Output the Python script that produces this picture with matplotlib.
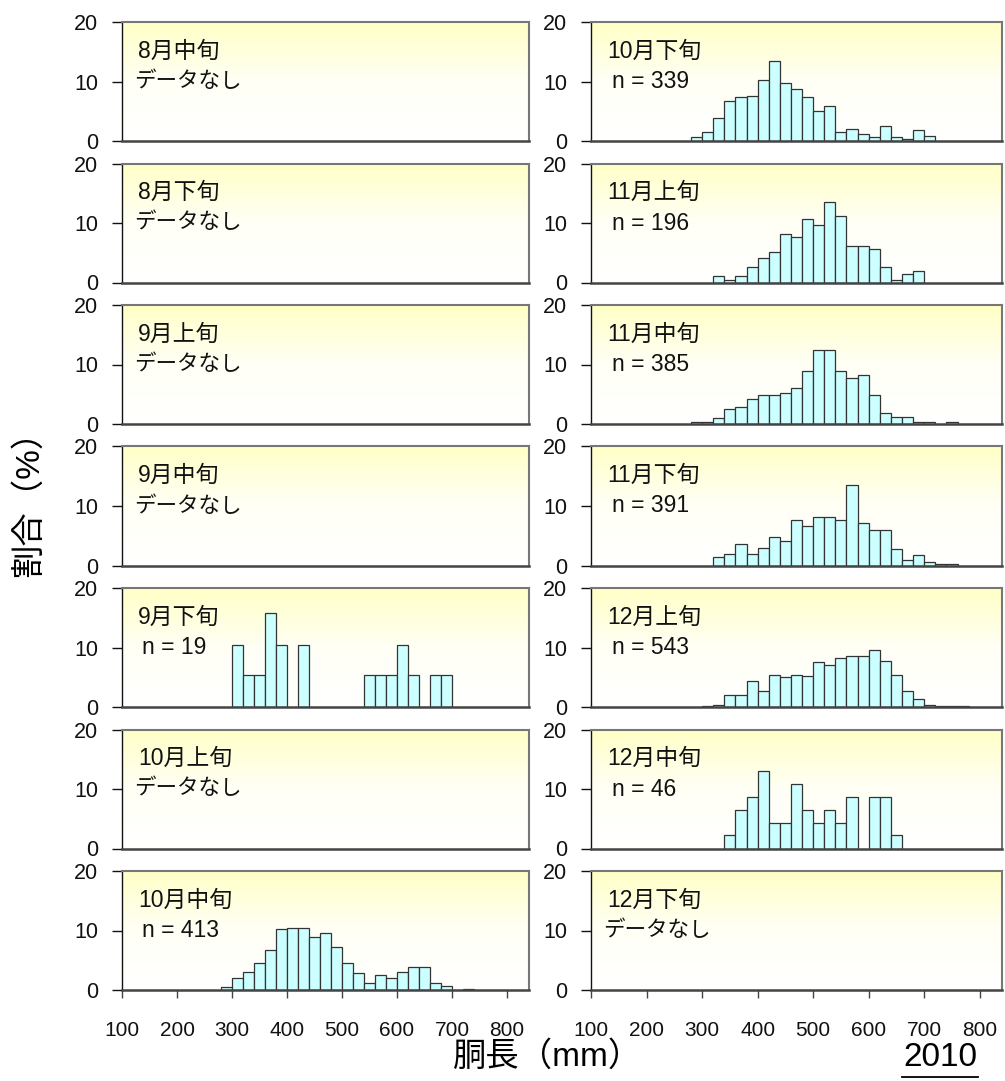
import numpy as np
import matplotlib
matplotlib.use("Agg")
import matplotlib.pyplot as plt
from matplotlib.colors import LinearSegmentedColormap
from matplotlib.lines import Line2D

plt.rcParams['font.family'] = ['Liberation Sans', 'Noto Sans CJK JP']

# left edges of 20 mm length classes
bin_left = [280, 300, 320, 340, 360, 380, 400, 420, 440, 460, 480, 500, 520,
            540, 560, 580, 600, 620, 640, 660, 680, 700, 720, 740, 760]

# percentage per length class (None = no data)
sep_late = [0, 10.5, 5.3, 5.3, 15.8, 10.5, 0, 10.5, 0, 0, 0, 0, 0,
            5.3, 5.3, 5.3, 10.5, 5.3, 0, 5.3, 5.3, 0, 0, 0, 0]
oct_mid = [0.5, 2.0, 3.0, 4.5, 6.8, 10.2, 10.4, 10.4, 8.9, 9.5, 7.2, 4.5, 2.8,
           1.2, 2.6, 2.0, 3.0, 3.8, 3.8, 1.2, 0.7, 0, 0.2, 0, 0]
oct_late = [0.6, 1.5, 3.9, 6.8, 7.4, 7.6, 10.3, 13.4, 9.7, 8.8, 7.4, 5.0, 5.9,
            1.5, 2.1, 1.2, 0.6, 2.6, 0.6, 0.4, 1.9, 0.9, 0, 0, 0]
nov_early = [0, 0, 1.1, 0.5, 1.1, 2.6, 4.1, 5.2, 8.1, 7.6, 10.7, 9.6, 13.6,
             11.2, 6.1, 6.1, 5.6, 2.6, 0.5, 1.5, 2.0, 0, 0, 0, 0]
nov_mid = [0.3, 0.3, 1.0, 2.5, 2.9, 4.2, 4.9, 4.8, 5.2, 6.0, 8.9, 12.4, 12.4,
           8.9, 7.8, 8.2, 4.9, 1.8, 1.2, 1.2, 0.3, 0.3, 0, 0.3, 0]
nov_late = [0, 0, 1.5, 1.9, 3.6, 1.9, 3.0, 4.8, 4.2, 7.6, 6.6, 8.2, 8.2,
            7.6, 13.5, 7.1, 6.0, 6.0, 2.8, 1.0, 1.7, 0.6, 0.3, 0.3, 0]
dec_early = [0, 0.2, 0.4, 2.0, 2.0, 4.3, 2.7, 5.4, 5.0, 5.4, 5.2, 7.5, 7.0,
             8.3, 8.5, 8.5, 9.5, 7.7, 5.4, 2.7, 1.3, 0.4, 0.2, 0.2, 0.2]
dec_mid = [0, 0, 0, 2.2, 6.5, 8.7, 13.0, 4.3, 4.3, 10.9, 6.5, 4.3, 6.5,
           4.3, 8.7, 0, 8.7, 8.7, 2.2, 0, 0, 0, 0, 0, 0]

left_titles = ["8月中旬", "8月下旬", "9月上旬", "9月中旬", "9月下旬", "10月上旬", "10月中旬"]
left_n = [None, None, None, None, 19, None, 413]
left_data = [None, None, None, None, sep_late, None, oct_mid]

right_titles = ["10月下旬", "11月上旬", "11月中旬", "11月下旬", "12月上旬", "12月中旬", "12月下旬"]
right_n = [339, 196, 385, 391, 543, 46, None]
right_data = [oct_late, nov_early, nov_mid, nov_late, dec_early, dec_mid, None]

W, H = 1005, 1081
fig = plt.figure(figsize=(W / 100, H / 100), dpi=100)

bg = LinearSegmentedColormap.from_list("bg", ["#ffffff", "#fffff6", "#ffffc6"])
grad = np.linspace(0, 1, 256).reshape(-1, 1)


def panel(x0, x1, row, title, n, vals, bottom_row):
    y_bot = 141 + row * 141.5
    ax = fig.add_axes([x0 / W, 1 - y_bot / H, (x1 - x0) / W, 119 / H])
    ax.imshow(grad, extent=[0, 1, 0, 1], transform=ax.transAxes, origin='lower',
              aspect='auto', cmap=bg, zorder=0)
    if vals is not None:
        v = np.array(vals, dtype=float)
        m = v > 0
        ax.bar(np.array(bin_left)[m], v[m], width=20, align='edge',
               color='#ccffff', edgecolor='#333333', linewidth=0.9, zorder=2)
    ax.set_xlim(100, 840)
    ax.set_ylim(0, 20)
    ax.set_yticks([0, 10, 20])
    ax.set_xticks([100, 200, 300, 400, 500, 600, 700, 800])
    ax.tick_params(axis='y', direction='out', length=7, width=1, pad=10,
                   labelsize=15.5, colors='#111111')
    if bottom_row:
        ax.tick_params(axis='x', direction='out', length=6, width=1, pad=16,
                       labelsize=15, colors='#111111', color='#444444')
    else:
        ax.tick_params(axis='x', length=0, labelbottom=False)
    for s in ['top', 'right']:
        ax.spines[s].set_color('#777777')
        ax.spines[s].set_linewidth(1.5)
    ax.spines['bottom'].set_color('#444444')
    ax.spines['bottom'].set_linewidth(1.8)
    ax.spines['left'].set_color('#111111')
    ax.spines['left'].set_linewidth(1.0)

    ax.text(0.04, 0.755, title, transform=ax.transAxes, fontsize=16.5,
            va='center', ha='left', color='#111111')
    if n is None:
        ax.text(0.03, 0.50, "データなし", transform=ax.transAxes, fontsize=15.5,
                va='center', ha='left', color='#111111')
    else:
        ax.text(0.05, 0.50, "n = %d" % n, transform=ax.transAxes, fontsize=16.5,
                va='center', ha='left', color='#111111')
    return ax


for i in range(7):
    panel(122, 529, i, left_titles[i], left_n[i], left_data[i], i == 6)
    panel(591, 1002, i, right_titles[i], right_n[i], right_data[i], i == 6)

fig.text(548 / W, 1 - 1057 / H, "胴長（mm）", fontsize=24, ha='center', va='center')
fig.text(29 / W, 1 - 495 / H, "割合（%）", fontsize=24, ha='center', va='center',
         rotation=90)
fig.text(940 / W, 1 - 1058 / H, "2010", fontsize=24, ha='center', va='center')
fig.add_artist(Line2D([902 / W, 978 / W], [1 - 1077 / H, 1 - 1077 / H],
                      transform=fig.transFigure, color='black', linewidth=1.3))

fig.savefig("out.png", dpi=100)
